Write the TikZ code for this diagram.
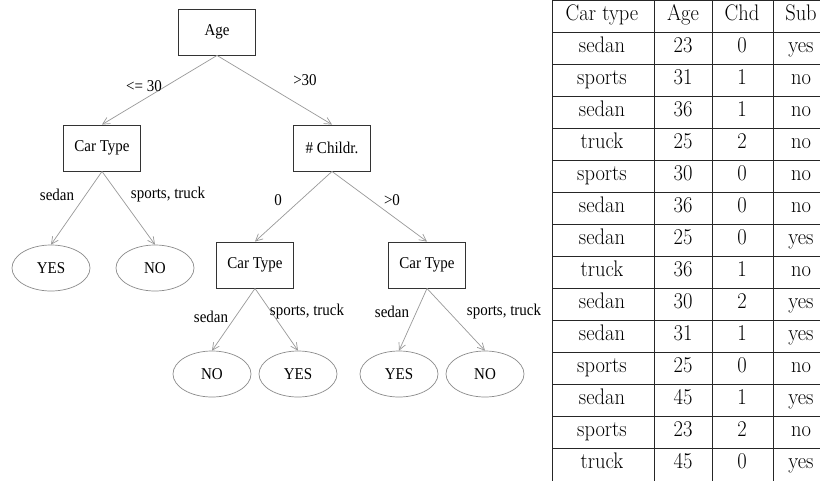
\documentclass[tikz,border=0pt]{standalone}
\usepackage{fontspec}
\usepackage{graphicx}
\newfontfamily\treefont{Liberation Serif}
\usetikzlibrary{arrows.meta,shapes.geometric}
\newcommand\vstr[1]{\scalebox{1}[1.1]{#1}}
\begin{document}
\begin{tikzpicture}[x=1pt,y=-1pt,
  tfont/.style={font=\treefont\fontsize{15}{18}\selectfont},
  box/.style={tfont, draw=black!80, line width=0.9pt, minimum width=77pt, minimum height=46pt, inner sep=0pt},
  leaf/.style={tfont, ellipse, draw=black!45, line width=0.7pt, minimum width=78pt, minimum height=46pt, inner sep=0pt},
  lbl/.style={tfont, inner sep=0pt},
  conn/.style={draw=black!40, line width=0.7pt, -{Straight Barb[length=7pt,width=7pt]}},
  tcell/.style={anchor=base, inner sep=0pt, font=\fontsize{20.5}{24}\selectfont},
  tline/.style={draw=black!85, line width=0.8pt}]
\useasboundingbox (0,0) rectangle (820,480);
\fill[white] (0,0) rectangle (820,480);
\clip (0,0) rectangle (820,480);

% tree nodes
\node[box] (age) at (217,32) {\vstr{Age}};
\node[box] (ctl) at (102,148) {\vstr{Car Type}};
\node[box] (chd) at (332,148) {\vstr{\# Childr.}};
\node[box] (ctm) at (255,265) {\vstr{Car Type}};
\node[box] (ctr) at (427,265) {\vstr{Car Type}};
\node[leaf] (l1) at (51,268) {\vstr{YES}};
\node[leaf] (l2) at (155,268) {\vstr{NO}};
\node[leaf] (l3) at (212,374) {\vstr{NO}};
\node[leaf] (l4) at (298,374) {\vstr{YES}};
\node[leaf] (l5) at (399,374) {\vstr{YES}};
\node[leaf] (l6) at (485,374) {\vstr{NO}};

% connectors
\draw[conn] (age.south) -- (ctl.north);
\draw[conn] (age.south) -- (chd.north);
\draw[conn] (ctl.south) -- (l1.north);
\draw[conn] (ctl.south) -- (l2.north);
\draw[conn] (chd.south) -- (ctm.north);
\draw[conn] (chd.south) -- (ctr.north);
\draw[conn] (ctm.south) -- (l3.north);
\draw[conn] (ctm.south) -- (l4.north);
\draw[conn] (ctr.south) -- (l5.north);
\draw[conn] (ctr.south) -- (l6.north);

% edge labels
\node[lbl] (e1) at (144,86) {\vstr{<= 30}};
\node[lbl] (e2) at (305,80) {\vstr{>30}};
\node[lbl] (e3) at (57,195) {\vstr{sedan}};
\node[lbl] (e4) at (168,195) {\vstr{sports, truck}};
\node[lbl] (e5) at (278,200) {\vstr{0}};
\node[lbl] (e6) at (392,200) {\vstr{>0}};
\node[lbl] (e7) at (211,317) {\vstr{sedan}};
\node[lbl] (e8) at (307,312) {\vstr{sports, truck}};
\node[lbl] (e9) at (392,312) {\vstr{sedan}};
\node[lbl] (e10) at (504,312) {\vstr{sports, truck}};

% table
\foreach \k in {0,...,14} \draw[tline] (552,{0.5+32*\k}) -- (830,{0.5+32*\k});
\foreach \xx in {552,654,712,773} \draw[tline] (\xx,0.5) -- (\xx,490);
\foreach \a/\b/\c/\d [count=\r from 0] in {Car type/Age/Chd/Sub,
  sedan/23/0/yes, sports/31/1/no, sedan/36/1/no, truck/25/2/no,
  sports/30/0/no, sedan/36/0/no, sedan/25/0/yes, truck/36/1/no,
  sedan/30/2/yes, sedan/31/1/yes, sports/25/0/no, sedan/45/1/yes,
  sports/23/2/no, truck/45/0/yes} {
  \node[tcell] (ta\r) at (602,{0.5+32*\r+19.5}) {\vstr{\a}};
  \node[tcell] (tb\r) at (683,{0.5+32*\r+19.5}) {\vstr{\b}};
  \node[tcell] (tc\r) at (742,{0.5+32*\r+19.5}) {\vstr{\c}};
  \node[tcell] (td\r) at (801,{0.5+32*\r+19.5}) {\vstr{\d}};
}
\end{tikzpicture}
\end{document}
